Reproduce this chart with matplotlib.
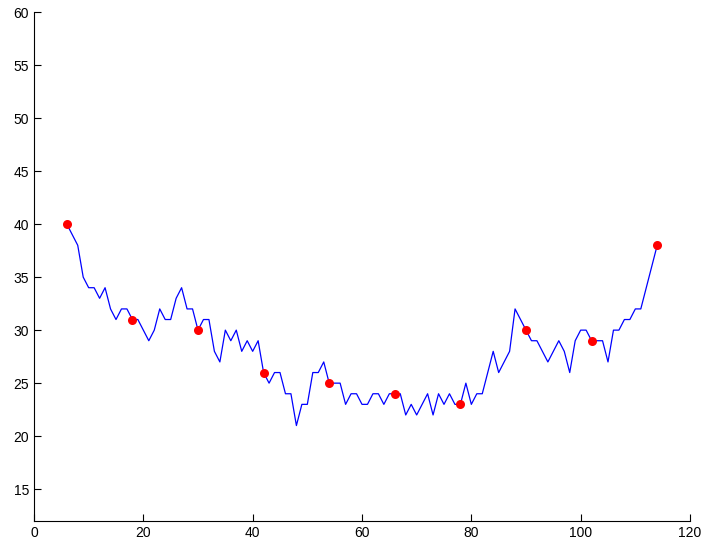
import matplotlib
matplotlib.use("Agg")
import matplotlib.pyplot as plt

x_start = 6
line_y = [40, 39, 38, 35, 34, 34, 33, 34, 32, 31, 32, 32, 31, 31, 30, 29, 30, 32, 31, 31,
          33, 34, 32, 32, 30, 31, 31, 28, 27, 30, 29, 30, 28, 29, 28, 29, 26, 25, 26, 26,
          24, 24, 21, 23, 23, 26, 26, 27, 25, 25, 25, 23, 24, 24, 23, 23, 24, 24, 23, 24,
          24, 24, 22, 23, 22, 23, 24, 22, 24, 23, 24, 23, 23, 25, 23, 24, 24, 26, 28, 26,
          27, 28, 32, 31, 30, 29, 29, 28, 27, 28, 29, 28, 26, 29, 30, 30, 29, 29, 29, 27,
          30, 30, 31, 31, 32, 32, 34, 36, 38]
line_x = list(range(x_start, x_start + len(line_y)))

dot_x = [6, 18, 30, 42, 54, 66, 78, 90, 102, 114]
dot_y = [40, 31, 30, 26, 25, 24, 23, 30, 29, 38]

x_ticks = [0, 20, 40, 60, 80, 100, 120]
y_ticks = [15, 20, 25, 30, 35, 40, 45, 50, 55, 60]

plt.rcParams['font.family'] = ['Liberation Sans', 'DejaVu Sans']
fig = plt.figure(figsize=(7.04, 5.47), dpi=100)
ax = fig.add_axes([34/704, 26/547, 656/704, 509/547])
ax.plot(line_x, line_y, color='#0000ff', linewidth=0.9)
ax.plot(dot_x, dot_y, 'o', color='#ff0000', markersize=6.5, markeredgewidth=0)
ax.set_xlim(0, 120)
ax.set_ylim(12, 60)
ax.set_xticks(x_ticks)
ax.set_yticks(y_ticks)
ax.spines['top'].set_visible(False)
ax.spines['right'].set_visible(False)
for s in ('left', 'bottom'):
    ax.spines[s].set_linewidth(0.8)
ax.tick_params(direction='in', length=5, width=0.8, labelsize=10)
fig.savefig('out.png', dpi=100)
